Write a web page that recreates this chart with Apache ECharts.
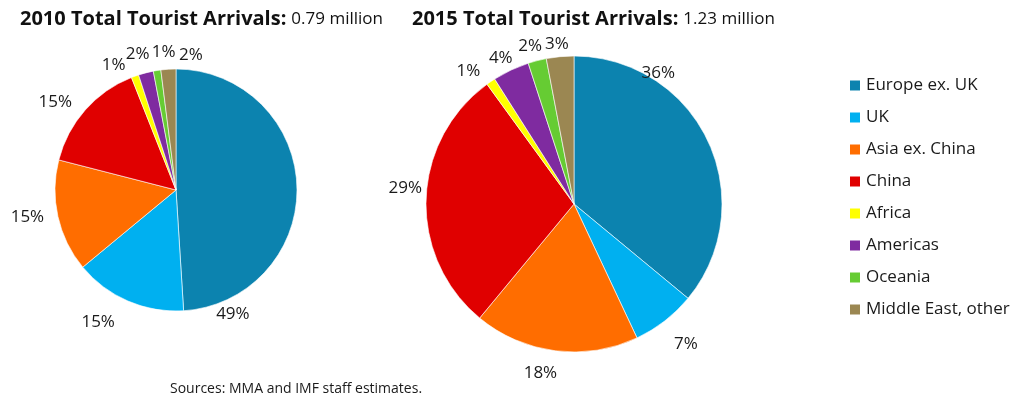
<!DOCTYPE html>
<html>
<head>
<meta charset="utf-8">
<script src="https://cdn.jsdelivr.net/npm/echarts@6/dist/echarts.min.js"></script>
<style>
  html, body { margin: 0; padding: 0; background: #fff; }
  #chart { width: 1016px; height: 397px; }
</style>
</head>
<body>
<div id="chart"></div>
<script>
// Tourist arrivals by origin, share of total (%)
const regions = ['Europe ex. UK', 'UK', 'Asia ex. China', 'China', 'Africa', 'Americas', 'Oceania', 'Middle East, other'];
const share2010 = [49, 15, 15, 15, 1, 2, 1, 2];
const share2015 = [36, 7, 18, 29, 1, 4, 2, 3];
const totals = ['0.79 million', '1.23 million'];
const years = ['2010', '2015'];
const sourceNote = 'Sources: MMA and IMF staff estimates.';

const palette = ['#0c83af', '#00b0f0', '#ff6d00', '#e00000', '#ffff00', '#7f2ba0', '#66cc33', '#9b8752'];

// Pie placement (pixels) and where each percentage label sits around it:
// angle clockwise from 12 o'clock (deg), distance as a multiple of the radius.
const pieGeom = [
  { center: [176, 190], radius: 121 },
  { center: [574, 204], radius: 148 }
];
const labelAngles = [
  [155.3, 210.4, 259.7, 306.0, 333.4, 344.3, 354.9, 6.3],
  [32.7, 141.3, 191.2, 275.3, 321.5, 333.4, 344.5, 353.9]
];
const labelDists = [
  [1.125, 1.271, 1.248, 1.233, 1.152, 1.169, 1.146, 1.12],
  [1.054, 1.21, 1.168, 1.145, 1.145, 1.105, 1.106, 1.089]
];

const FONT = 'Open Sans';

function pieSeries(idx, values) {
  const g = pieGeom[idx];
  return {
    type: 'pie',
    name: years[idx],
    center: g.center,
    radius: g.radius,
    startAngle: 90,
    clockwise: true,
    avoidLabelOverlap: false,
    silent: true,
    itemStyle: { borderColor: '#ffffff', borderWidth: 0.6 },
    label: {
      show: true,
      position: 'outside',
      formatter: '{c}%',
      fontFamily: FONT,
      fontSize: 17,
      color: '#1a1a1a'
    },
    labelLine: { show: false },
    labelLayout: function (p) {
      const a = labelAngles[idx][p.dataIndex] * Math.PI / 180;
      const d = labelDists[idx][p.dataIndex] * g.radius;
      return {
        x: g.center[0] + d * Math.sin(a),
        y: g.center[1] - d * Math.cos(a),
        align: 'center',
        verticalAlign: 'middle'
      };
    },
    emphasis: { disabled: true },
    data: regions.map((r, i) => ({ name: r, value: values[i] }))
  };
}

const chart = echarts.init(document.getElementById('chart'), null, { renderer: 'canvas' });

const titleRich = {
  b: { fontFamily: FONT, fontWeight: 'bold', fontSize: 20, color: '#111' },
  r: { fontFamily: FONT, fontWeight: 'normal', fontSize: 17, color: '#111' }
};

chart.setOption({
  animation: false,
  color: palette,
  title: [
    { text: '{b|' + years[0] + ' Total Tourist Arrivals:} {r|' + totals[0] + '}', left: 20, top: 9, padding: 0, textStyle: { rich: titleRich } },
    { text: '{b|' + years[1] + ' Total Tourist Arrivals:} {r|' + totals[1] + '}', left: 412, top: 9, padding: 0, textStyle: { rich: titleRich } },
    { text: sourceNote, left: 170, top: 382, padding: 0, textStyle: { fontFamily: FONT, fontWeight: 'normal', fontSize: 14, color: '#1a1a1a' } }
  ],
  legend: {
    orient: 'vertical',
    left: 848,
    top: 77,
    padding: 0,
    itemWidth: 12,
    itemHeight: 12,
    itemGap: 15,
    icon: 'rect',
    selectedMode: false,
    textStyle: { fontFamily: FONT, fontSize: 17, lineHeight: 17, color: '#1a1a1a' },
    data: regions
  },
  series: [pieSeries(0, share2010), pieSeries(1, share2015)]
});
</script>
</body>
</html>
